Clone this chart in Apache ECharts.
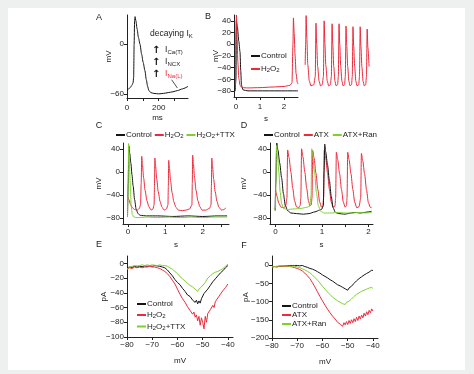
<!DOCTYPE html>
<html><head><meta charset="utf-8">
<script src="https://cdn.jsdelivr.net/npm/echarts@6/dist/echarts.min.js"></script>
<style>
html,body{margin:0;padding:0;background:#eef0ef;width:474px;height:374px;overflow:hidden;}
#wrap{position:absolute;left:8px;top:8px;width:457px;height:362px;background:#fff;}
#c{position:absolute;left:0;top:0;width:474px;height:374px;}
</style></head><body><div id="wrap"></div><div id="c"></div>
<script>
// ---------- DATA ----------
// Panel A: single action potential (ms, mV)
const aTrace = [[0,-55],[10,-54],[20,-52.5],[30,-50],[38,-47],[42,-40],[45,0],[48,28],[51,33],[56,28],[64,18],[72,8],[82,0],[92,-12],[102,-22],[113,-32],[122,-43],[130,-51],[138,-56],[150,-58.5],[170,-59.5],[200,-60],[230,-59.5],[260,-58.5],[290,-57.5],[320,-56],[350,-54],[385,-51]];
const aPointer = [[282,-43],[318,-53]];
const aXLabels = [0,200], aYLabels = [0,-60];
// Panel B (s, mV)
const bControl = [[-0.03,-80],[0,-60],[0.02,40],[0.06,30],[0.12,5],[0.17,-13],[0.2,-45],[0.23,-70],[0.3,-78],[0.5,-79.5],[1.0,-79.5],[1.5,-79.5],[2.0,-79.5],[2.58,-79.5]];
const bH2O2 = [[-0.02,-72],[0,20],[0.02,50],[0.05,10],[0.08,-30],[0.12,-58],[0.17,-70],[0.25,-74],[0.5,-74.5],[1.0,-74],[1.5,-73],[2.0,-72],[2.25,-70],[2.33,-66],[2.37,0],[2.39,45],[2.42,20],[2.46,-20],[2.5,-50],[2.55,-65],[2.58,-68]];
const bH2O2Cont = [[0.09,-35],[0.11,0],[0.13,49],[0.16,10],[0.2,-35],[0.26,-62],[0.33,-71],[0.45,-69],[0.51,-55],[0.54,36],[0.57,0],[0.61,-38],[0.67,-63],[0.73,-71],[0.8,-69],[0.85,-55],[0.88,40],[0.91,2],[0.95,-36],[1.01,-63],[1.07,-71],[1.14,-69],[1.18,-55],[1.21,35],[1.24,0],[1.28,-38],[1.33,-63],[1.38,-71],[1.44,-69],[1.47,-55],[1.5,35],[1.53,0],[1.57,-38],[1.62,-63],[1.67,-71],[1.73,-69],[1.76,-55],[1.79,31],[1.82,-2],[1.86,-38],[1.91,-63],[1.96,-71],[2.02,-69],[2.05,-55],[2.08,30],[2.11,-3],[2.15,-38],[2.2,-63],[2.25,-71],[2.32,-69],[2.35,-55],[2.38,30],[2.41,-3],[2.45,-38],[2.5,-63],[2.55,-71],[2.61,-69],[2.64,-55],[2.67,26],[2.7,-5],[2.75,-38]];
const bXLabels = [0,1,2], bYLabels = [-80,-60,-40,-20,0,20,40];
// Panel C (s, mV)
const cControl = [[-0.01,-78],[0.01,-20],[0.025,45],[0.05,32],[0.08,15],[0.11,-5],[0.14,-24],[0.18,-48],[0.22,-64],[0.27,-72],[0.33,-75],[0.5,-76],[0.8,-76],[1.2,-77],[1.6,-76],[2.0,-77],[2.4,-76],[2.65,-76]];
const cH2O2 = [[0,-43],[0.03,-48],[0.07,-56],[0.12,-62],[0.18,-65],[0.25,-66],[0.31,-63],[0.34,-56],[0.355,-20],[0.37,27],[0.39,12],[0.42,-10],[0.46,-32],[0.51,-50],[0.56,-60],[0.62,-66],[0.67,-64],[0.7,-57],[0.71,-25],[0.72,24],[0.74,10],[0.77,-12],[0.81,-34],[0.86,-51],[0.91,-61],[0.97,-66],[1.03,-64],[1.07,-57],[1.08,-25],[1.09,20],[1.11,6],[1.14,-15],[1.18,-36],[1.23,-52],[1.28,-61],[1.35,-66],[1.45,-67],[1.55,-66],[1.65,-64],[1.71,-57],[1.72,-20],[1.73,29],[1.75,14],[1.78,-10],[1.82,-32],[1.87,-50],[1.92,-60],[1.98,-66],[2.08,-66],[2.18,-63],[2.22,-57],[2.23,-25],[2.24,24],[2.26,10],[2.29,-12],[2.33,-34],[2.38,-51],[2.43,-61],[2.5,-66],[2.56,-65],[2.62,-62]];
const cTTX = [[-0.01,-78],[0.005,-30],[0.02,49],[0.035,30],[0.05,0],[0.07,-35],[0.09,-60],[0.12,-74],[0.16,-78],[0.25,-79],[0.5,-78],[0.8,-79],[1.1,-78],[1.4,-79],[1.7,-78],[2.0,-79],[2.3,-78],[2.65,-78]];
const cdXLabels = [0,1,2], cdYLabels = [-80,-40,0,40];
// Panel D (s, mV)
const dControl = [[-0.01,-67],[0.005,-20],[0.025,50],[0.05,38],[0.09,15],[0.13,-10],[0.17,-38],[0.21,-58],[0.26,-67],[0.33,-71],[0.45,-72],[0.6,-73],[0.72,-72],[0.85,-69],[0.95,-66],[1.0,-64],[1.03,-58],[1.045,0],[1.06,48],[1.08,35],[1.12,12],[1.16,-15],[1.2,-42],[1.24,-62],[1.29,-70],[1.36,-72],[1.5,-73],[1.62,-71],[1.72,-70],[1.82,-71],[1.92,-70],[2.0,-69],[2.07,-68]];
const dATX = [[0,-30],[0.03,-42],[0.07,-54],[0.12,-61],[0.18,-62],[0.22,-58],[0.245,-45],[0.26,38],[0.29,25],[0.33,0],[0.37,-28],[0.41,-50],[0.45,-60],[0.5,-62],[0.53,-58],[0.545,-45],[0.56,40],[0.59,26],[0.63,0],[0.67,-28],[0.71,-50],[0.74,-59],[0.77,-57],[0.785,-45],[0.8,37],[0.83,24],[0.87,-2],[0.91,-30],[0.95,-52],[0.99,-61],[1.02,-58],[1.035,-45],[1.05,38],[1.08,24],[1.12,-2],[1.16,-30],[1.2,-52],[1.24,-61],[1.28,-59],[1.295,-45],[1.31,34],[1.34,21],[1.38,-3],[1.42,-30],[1.46,-52],[1.5,-61],[1.53,-58],[1.54,-45],[1.555,34],[1.585,21],[1.625,-3],[1.665,-30],[1.705,-52],[1.75,-62],[1.8,-60],[1.835,-45],[1.85,32],[1.88,19],[1.92,-4],[1.96,-31],[2.0,-53],[2.04,-61],[2.07,-62]];
const dRan = [[-0.04,-63],[0.0,-62],[0.005,-20],[0.02,46],[0.04,30],[0.07,0],[0.1,-35],[0.13,-55],[0.17,-63],[0.25,-65],[0.4,-64],[0.55,-63],[0.68,-61],[0.74,-59],[0.765,-40],[0.78,40],[0.8,28],[0.84,0],[0.88,-35],[0.92,-58],[0.97,-68],[1.05,-71],[1.2,-71],[1.35,-70],[1.5,-71],[1.65,-71],[1.8,-70],[1.95,-71],[2.07,-70]];
// Panel E (mV, pA)
const eControl = [[-80,-6],[-79,-5],[-78,-5.5],[-77,-4],[-76,-5],[-75,-4],[-74,-4.5],[-73,-3.5],[-72,-4],[-71,-3],[-70,-4],[-69,-3],[-68,-3.5],[-67,-4],[-66,-5],[-65,-6],[-64,-9],[-63,-13],[-62,-17],[-61,-22],[-60,-26],[-59,-29],[-58,-34],[-57,-38],[-56,-43],[-55,-45],[-54,-50],[-53.5,-48],[-53,-53],[-52.5,-50],[-52,-55],[-51.5,-51],[-51,-54],[-50.5,-48],[-50,-47],[-49.5,-41],[-49,-42],[-48,-35],[-47,-30],[-46,-25],[-45,-21],[-44,-17],[-43,-13],[-42,-10],[-41,-6],[-40,-3]];
const eH2O2 = [[-80,-8],[-79,-6],[-78,-7],[-77,-5],[-76,-6],[-75,-5],[-74,-6],[-73,-5],[-72,-5],[-71,-4],[-70,-5],[-69,-5],[-68,-6],[-67,-7],[-66,-9],[-65,-11],[-64,-14],[-63,-18],[-62,-23],[-61,-28],[-60,-35],[-59,-42],[-58,-48],[-57,-53],[-56,-59],[-55,-64],[-54.5,-62],[-54,-69],[-53.5,-66],[-53,-73],[-52.5,-70],[-52,-78],[-51.5,-72],[-51,-84],[-50.5,-74],[-50,-80],[-49.5,-89],[-49,-72],[-48.5,-80],[-48,-68],[-47.5,-70],[-47,-63],[-46.5,-64],[-46,-57],[-45.5,-60],[-45,-52],[-44.5,-54],[-44,-47],[-43.5,-48],[-43,-42],[-42.5,-44],[-42,-37],[-41.5,-38],[-41,-33],[-40.5,-34],[-40,-28]];
const eTTX = [[-80,-8],[-79,-5],[-78,-4],[-77,-3],[-76,-3.5],[-75,-3],[-74,-2],[-73,-3],[-72,-2],[-71,-3],[-70,-2],[-69,-2.5],[-68,-3],[-67,-2],[-66,-3],[-65,-3],[-64,-4],[-63,-6],[-62,-8],[-61,-11],[-60,-14],[-59,-18],[-58,-21],[-57,-24],[-56,-27],[-55,-30],[-54,-32],[-53.5,-31],[-53,-35],[-52.5,-34],[-52,-38],[-51.5,-35],[-51,-36],[-50.5,-32],[-50,-31],[-49,-26],[-48,-20],[-47,-17],[-46,-14],[-45,-12],[-44,-11],[-43,-9],[-42,-7],[-41,-4],[-40,-1]];
const eXLabels = [-80,-70,-60,-50,-40], eYLabels = [-100,-80,-60,-40,-20,0];
// Panel F (mV, pA)
const fControl = [[-80,-5],[-79,-4],[-78,-5],[-77,-3],[-76,-3],[-75,-2],[-74,-2],[-73,-1],[-72,-1],[-71,-1],[-70,-1],[-69,-2],[-68,-1],[-67,-4],[-66,-6],[-65,-9],[-64,-11],[-63,-14],[-62,-18],[-61,-22],[-60,-27],[-59,-31],[-58,-35],[-57,-40],[-56,-44],[-55,-49],[-54.5,-46],[-54,-54],[-53.5,-52],[-53,-57],[-52.5,-55],[-52,-61],[-51.5,-58],[-51,-65],[-50.5,-62],[-50,-69],[-49.5,-63],[-49,-66],[-48.5,-58],[-48,-60],[-47.5,-50],[-47,-48],[-46.5,-43],[-46,-43],[-45.5,-37],[-45,-38],[-44.5,-32],[-44,-32],[-43.5,-27],[-43,-28],[-42.5,-23],[-42,-23],[-41.5,-19],[-41,-19],[-40.5,-14],[-40,-15]];
const fATX = [[-80,-5],[-79,-4],[-78,-4],[-77,-3],[-76,-3],[-75,-3],[-74,-4],[-73,-4],[-72,-5],[-71,-7],[-70,-9],[-69,-12],[-68,-16],[-67,-22],[-66,-29],[-65,-37],[-64,-48],[-63,-60],[-62,-73],[-61,-86],[-60,-98],[-59,-110],[-58,-121],[-57,-131],[-56,-140],[-55,-148],[-54.5,-150],[-54,-157],[-53.5,-153],[-53,-162],[-52.5,-158],[-52,-168],[-51.5,-158],[-51,-164],[-50.5,-155],[-50,-163],[-49.5,-152],[-49,-160],[-48.5,-150],[-48,-158],[-47.5,-147],[-47,-155],[-46.5,-143],[-46,-152],[-45.5,-140],[-45,-148],[-44.5,-137],[-44,-145],[-43.5,-132],[-43,-140],[-42.5,-128],[-42,-136],[-41.5,-124],[-41,-131],[-40.5,-120],[-40,-126]];
const fRan = [[-80,-5],[-79,-4],[-78,-3],[-77,-2],[-76,-2],[-75,-2],[-74,-3],[-73,-3],[-72,-3],[-71,-3],[-70,-5],[-69,-7],[-68,-10],[-67,-13],[-66,-17],[-65,-21],[-64,-27],[-63,-34],[-62,-41],[-61,-49],[-60,-58],[-59,-66],[-58,-74],[-57,-81],[-56,-88],[-55,-93],[-54,-98],[-53.5,-96],[-53,-102],[-52.5,-100],[-52,-106],[-51.5,-103],[-51,-108],[-50.5,-102],[-50,-105],[-49.5,-99],[-49,-101],[-48.5,-93],[-48,-94],[-47.5,-86],[-47,-88],[-46.5,-80],[-46,-82],[-45.5,-76],[-45,-78],[-44.5,-72],[-44,-74],[-43.5,-69],[-43,-71],[-42.5,-66],[-42,-68],[-41.5,-63],[-41,-66],[-40.5,-61],[-40,-64]];
const fXLabels = [-80,-70,-60,-50,-40], fYLabels = [-200,-150,-100,-50,0];

// legend display names
const displayNames = {
  B_Control:'Control', B_H2O2:'H{s|2}O{s|2}',
  C_Control:'Control', C_H2O2:'H{s|2}O{s|2}', C_TTX:'H{s|2}O{s|2}+TTX',
  D_Control:'Control', D_ATX:'ATX', D_Ran:'ATX+Ran',
  E_Control:'Control', E_H2O2:'H{s|2}O{s|2}', E_TTX:'H{s|2}O{s|2}+TTX',
  F_Control:'Control', F_ATX:'ATX', F_Ran:'ATX+Ran'
};

// ---------- STYLE ----------
const FONT = 'Liberation Sans, Arial, Helvetica, sans-serif';
const INK = '#222';
const BLACK = '#151515', RED = '#ec2a3c', GREEN = '#7dd12c';
const fmt = v => String(v).replace('-', '\u2212');

function xAx(gi, min, max, labels, ticks, name, gap, margin, show=true) {
  return {type:'value', gridIndex:gi, min, max, show,
    axisLine:{show:true,onZero:false,lineStyle:{color:INK,width:1}},
    axisTick:{show:true,length:3,customValues:ticks,lineStyle:{color:INK}},
    axisLabel:{fontSize:8,color:INK,fontFamily:FONT,margin:margin,customValues:labels,formatter:fmt},
    splitLine:{show:false}, name, nameLocation:'middle', nameGap:gap, nameMoveOverlap:false,
    nameTextStyle:{fontSize:8,color:INK,fontFamily:FONT}};
}
function yAx(gi, min, max, labels, ticks, name, gap, show=true) {
  return {type:'value', gridIndex:gi, min, max, show,
    axisLine:{show:true,onZero:false,lineStyle:{color:INK,width:1}},
    axisTick:{show:true,length:3,customValues:ticks,lineStyle:{color:INK}},
    axisLabel:{fontSize:8,color:INK,fontFamily:FONT,margin:3,customValues:labels,formatter:fmt},
    splitLine:{show:false}, name, nameLocation:'middle', nameGap:gap, nameRotate:90, nameMoveOverlap:false,
    nameTextStyle:{fontSize:8,color:INK,fontFamily:FONT}};
}
function ln(name, gi, data, color, smooth) {
  return {name, type:'line', xAxisIndex:gi, yAxisIndex:gi, data, showSymbol:false, symbol:'none',
    smooth: smooth ? 0.25 : false, smoothMonotone:'x', silent:true,
    lineStyle:{color, width:1}, itemStyle:{color}};
}
const richSub = {s:{fontSize:6, fontFamily:FONT, color:INK, verticalAlign:'bottom', padding:[3,0,0,0]}};
function leg(names, left, top, orient, gap) {
  return {data:names, left, top, orient, itemGap:gap, itemWidth:9, itemHeight:2, icon:'rect',
    selectedMode:false, padding:0,
    textStyle:{fontSize:8,color:INK,fontFamily:FONT,padding:[0,0,0,-4],rich:richSub},
    formatter: n => displayNames[n]};
}
function label(t, x, y) {
  return {type:'text', x, y, style:{text:t, fontSize:9, fontFamily:FONT, fill:INK, verticalAlign:'middle', align:'center'}};
}
const gRich = {
  a:{fontSize:10, fontWeight:'bold', fontFamily:'DejaVu Sans', fill:'#111'},
  s:{fontSize:6, fontFamily:FONT, fill:INK, padding:[4,0,0,0]},
  r:{fontSize:8.5,fontFamily:FONT,fill:RED},
  rs:{fontSize:6,fontFamily:FONT,fill:RED,padding:[4,0,0,0]}
};
function note(t, x, y) {
  return {type:'text', x, y, style:{text:t, fontSize:8.5, fontFamily:FONT, fill:INK, verticalAlign:'middle', rich:gRich}};
}

const option = {
  animation:false,
  textStyle:{fontFamily:FONT},
  grid:[
    {left:127, top:15, width:61, height:83},
    {left:234, top:15, width:64, height:82},
    {left:303, top:15, width:68, height:82},
    {left:123, top:143, width:106, height:81},
    {left:270, top:143, width:103, height:81},
    {left:127, top:256, width:106, height:81},
    {left:272, top:256, width:106, height:82}
  ].map(g => Object.assign(g, {containLabel:false, outerBoundsMode:'none'})),
  xAxis:[
    xAx(0, 0, 385, aXLabels, [0,100,200,300], 'ms', 16, 6),
    xAx(1, -0.08, 2.58, bXLabels, [0,1,2], 's', 18, 6),
    xAx(2, 0, 2.83, [], [], '', 0, 4, false),
    xAx(3, -0.13, 2.7, cdXLabels, [0,0.5,1,1.5,2,2.5], 's', 17, 4),
    xAx(4, -0.12, 2.1, cdXLabels, [0,0.5,1,1.5,2], 's', 17, 4),
    xAx(5, -80, -38, eXLabels, eXLabels, 'mV', 20, 4),
    xAx(6, -80, -38, fXLabels, fXLabels, 'mV', 20, 4)
  ],
  yAxis:[
    yAx(0, -65, 35, aYLabels, aYLabels, 'mV', 14),
    yAx(1, -90, 50, bYLabels, bYLabels, 'mV', 14),
    yAx(2, -90, 50, [], [], '', 0, false),
    yAx(3, -90, 50, cdYLabels, cdYLabels, 'mV', 20),
    yAx(4, -90, 50, cdYLabels, cdYLabels, 'mV', 22),
    yAx(5, -100, 10, eYLabels, eYLabels, 'pA', 19),
    yAx(6, -200, 25, fYLabels, fYLabels, 'pA', 22)
  ],
  legend:[
    leg(['B_Control','B_H2O2'], 251, 52, 'vertical', 5),
    leg(['C_Control','C_H2O2','C_TTX'], 116, 131, 'horizontal', 3),
    leg(['D_Control','D_ATX','D_Ran'], 264, 131, 'horizontal', 4),
    leg(['E_Control','E_H2O2','E_TTX'], 137, 300, 'vertical', 3),
    leg(['F_Control','F_ATX','F_Ran'], 282, 302, 'vertical', 1)
  ],
  series:[
    Object.assign(ln('A_AP', 0, aTrace, BLACK, true), {
      markLine:{silent:true, symbol:'none', label:{show:false}, lineStyle:{color:INK,width:0.8,type:'solid'},
        data:[[{coord:aPointer[0]},{coord:aPointer[1]}]]}}),
    ln('B_Control', 1, bControl, BLACK, true),
    ln('B_H2O2', 1, bH2O2, RED, true),
    ln('B_H2O2c', 2, bH2O2Cont, RED, true),
    ln('C_Control', 3, cControl, BLACK, true),
    ln('C_H2O2', 3, cH2O2, RED, true),
    ln('C_TTX', 3, cTTX, GREEN, true),
    ln('D_ATX', 4, dATX, RED, true),
    ln('D_Control', 4, dControl, BLACK, true),
    ln('D_Ran', 4, dRan, GREEN, true),
    ln('E_Control', 5, eControl, BLACK, false),
    ln('E_H2O2', 5, eH2O2, RED, false),
    ln('E_TTX', 5, eTTX, GREEN, false),
    ln('F_Control', 6, fControl, BLACK, false),
    ln('F_ATX', 6, fATX, RED, false),
    ln('F_Ran', 6, fRan, GREEN, false)
  ],
  graphic:[
    label('A', 99, 18), label('B', 208, 17), label('C', 99, 126),
    label('D', 244, 126), label('E', 99, 245), label('F', 244, 246),
    note('decaying I{s|K}', 150, 34),
    note('{a|\u2191}  I{s|Ca(T)}', 152, 50),
    note('{a|\u2191}  I{s|NCX}', 152, 62),
    note('{a|\u2191}  {r|I}{rs|Na(L)}', 152, 74)
  ]
};
const chart = echarts.init(document.getElementById('c'), null, {renderer:'canvas'});
chart.setOption(option);
</script></body></html>
